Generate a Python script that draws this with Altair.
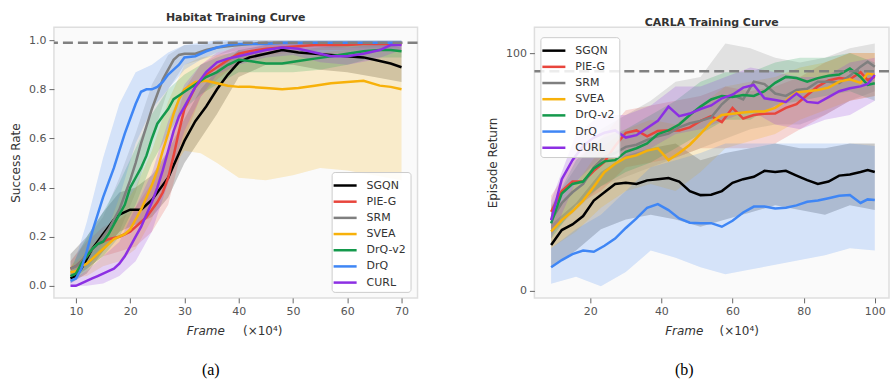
import altair as alt
import pandas as pd

METHODS = ["SGQN", "PIE-G", "SRM", "SVEA", "DrQ-v2", "DrQ", "CURL"]
COLORS = ["#000000", "#e8453c", "#7f7f7f", "#f7b10a", "#14994c", "#3f86f5", "#8c2fe3"]

# ---------------- Habitat (success rate) ----------------
HAB_X = [9, 10, 11, 12, 13, 14, 15, 16, 17, 18, 19, 20, 21, 22, 23, 24, 25, 26, 27, 28, 29, 30,
         32, 34, 36, 38, 40, 42, 45, 48, 51, 54, 57, 60, 63, 66, 68, 70]
HAB_SGQN = [0.03, 0.04, 0.07, 0.11, 0.15, 0.18, 0.21, 0.24, 0.27, 0.29, 0.30, 0.31, 0.31, 0.31, 0.33, 0.35, 0.38, 0.41, 0.44, 0.49, 0.54, 0.59,
            0.67, 0.73, 0.80, 0.86, 0.91, 0.93, 0.945, 0.96, 0.95, 0.945, 0.94, 0.935, 0.93, 0.915, 0.905, 0.89]
HAB_PIEG = [0.07, 0.08, 0.10, 0.12, 0.15, 0.17, 0.18, 0.19, 0.195, 0.20, 0.21, 0.22, 0.24, 0.26, 0.28, 0.31, 0.34, 0.38, 0.44, 0.53, 0.63, 0.72,
            0.81, 0.86, 0.89, 0.92, 0.945, 0.955, 0.965, 0.97, 0.975, 0.98, 0.98, 0.98, 0.985, 0.985, 0.985, 0.985]
HAB_SRM = [0.07, 0.08, 0.10, 0.13, 0.15, 0.17, 0.20, 0.23, 0.27, 0.31, 0.37, 0.43, 0.50, 0.58, 0.65, 0.72, 0.78, 0.84, 0.88, 0.92, 0.94, 0.945,
           0.945, 0.96, 0.97, 0.975, 0.98, 0.985, 0.99, 0.99, 0.99, 0.99, 0.99, 0.99, 0.99, 0.99, 0.99, 0.99]
HAB_SVEA = [0.055, 0.06, 0.08, 0.09, 0.11, 0.13, 0.15, 0.17, 0.19, 0.20, 0.21, 0.23, 0.27, 0.31, 0.36, 0.41, 0.47, 0.55, 0.62, 0.70, 0.76, 0.80,
            0.83, 0.835, 0.825, 0.815, 0.81, 0.81, 0.805, 0.80, 0.805, 0.815, 0.825, 0.83, 0.835, 0.815, 0.81, 0.80]
HAB_DRQV2 = [0.04, 0.05, 0.09, 0.12, 0.15, 0.17, 0.18, 0.21, 0.25, 0.29, 0.33, 0.40, 0.44, 0.48, 0.53, 0.60, 0.66, 0.69, 0.72, 0.76, 0.775, 0.79,
             0.82, 0.85, 0.87, 0.90, 0.92, 0.915, 0.905, 0.905, 0.915, 0.925, 0.935, 0.945, 0.955, 0.96, 0.96, 0.955]
HAB_DRQ = [0.02, 0.03, 0.07, 0.14, 0.22, 0.29, 0.36, 0.42, 0.48, 0.55, 0.62, 0.68, 0.74, 0.79, 0.80, 0.80, 0.81, 0.83, 0.86, 0.88, 0.90, 0.93,
           0.935, 0.955, 0.97, 0.98, 0.985, 0.985, 0.985, 0.99, 0.99, 0.99, 0.99, 0.99, 0.99, 0.99, 0.99, 0.99]
HAB_CURL = [0.0, 0.0, 0.01, 0.02, 0.03, 0.04, 0.05, 0.06, 0.07, 0.09, 0.12, 0.16, 0.20, 0.24, 0.29, 0.34, 0.40, 0.47, 0.55, 0.63, 0.69, 0.73,
            0.81, 0.87, 0.91, 0.925, 0.935, 0.945, 0.96, 0.97, 0.965, 0.95, 0.935, 0.935, 0.945, 0.96, 0.98, 0.98]

HAB_BX = [9, 12, 15, 18, 21, 24, 27, 30, 33, 36, 40, 45, 50, 55, 60, 65, 70]
HAB_SGQN_LO = [0.01, 0.05, 0.14, 0.22, 0.25, 0.28, 0.36, 0.50, 0.60, 0.70, 0.85, 0.90, 0.90, 0.88, 0.87, 0.85, 0.83]
HAB_SGQN_HI = [0.13, 0.20, 0.30, 0.38, 0.40, 0.45, 0.55, 0.68, 0.80, 0.88, 0.96, 0.98, 0.99, 0.99, 0.99, 0.99, 0.97]
HAB_PIEG_LO = [0.03, 0.07, 0.12, 0.14, 0.16, 0.22, 0.33, 0.60, 0.77, 0.84, 0.91, 0.94, 0.95, 0.96, 0.96, 0.96, 0.96]
HAB_PIEG_HI = [0.10, 0.18, 0.24, 0.27, 0.32, 0.42, 0.55, 0.80, 0.90, 0.94, 0.98, 0.99, 0.99, 0.995, 0.995, 0.995, 0.995]
HAB_SRM_LO = [0.04, 0.08, 0.14, 0.22, 0.38, 0.60, 0.80, 0.90, 0.92, 0.94, 0.96, 0.97, 0.97, 0.97, 0.97, 0.97, 0.97]
HAB_SRM_HI = [0.10, 0.19, 0.28, 0.44, 0.62, 0.82, 0.94, 0.98, 0.98, 0.99, 1.0, 1.0, 1.0, 1.0, 1.0, 1.0, 1.0]
HAB_SVEA_LO = [0.03, 0.04, 0.08, 0.10, 0.15, 0.27, 0.45, 0.55, 0.54, 0.50, 0.44, 0.43, 0.45, 0.48, 0.47, 0.45, 0.43]
HAB_SVEA_HI = [0.08, 0.14, 0.22, 0.30, 0.40, 0.55, 0.75, 0.90, 0.93, 0.94, 0.95, 0.95, 0.95, 0.95, 0.96, 0.96, 0.96]
HAB_DRQV2_LO = [0.02, 0.07, 0.12, 0.20, 0.33, 0.50, 0.62, 0.72, 0.78, 0.82, 0.87, 0.87, 0.87, 0.88, 0.90, 0.93, 0.93]
HAB_DRQV2_HI = [0.07, 0.20, 0.30, 0.42, 0.56, 0.70, 0.80, 0.86, 0.90, 0.93, 0.96, 0.95, 0.96, 0.97, 0.98, 0.99, 0.98]
HAB_DRQ_LO = [0.01, 0.06, 0.18, 0.36, 0.58, 0.72, 0.80, 0.88, 0.92, 0.95, 0.97, 0.98, 0.98, 0.98, 0.98, 0.98, 0.98]
HAB_DRQ_HI = [0.04, 0.26, 0.52, 0.74, 0.87, 0.90, 0.95, 0.98, 0.99, 1.0, 1.0, 1.0, 1.0, 1.0, 1.0, 1.0, 1.0]
HAB_CURL_LO = [0.0, 0.0, 0.01, 0.04, 0.10, 0.22, 0.42, 0.63, 0.77, 0.86, 0.90, 0.93, 0.94, 0.91, 0.90, 0.92, 0.96]
HAB_CURL_HI = [0.02, 0.06, 0.12, 0.18, 0.32, 0.46, 0.67, 0.82, 0.90, 0.95, 0.97, 0.98, 0.99, 0.98, 0.97, 0.98, 0.99]
HAB_REF = 0.99

# ---------------- CARLA (episode return) ----------------
CAR_X = [9, 12, 15, 18, 21, 24, 27, 30, 33, 36, 39, 42, 45, 48, 51, 54, 57, 60, 63, 66, 69, 72, 75, 78, 81, 84,
         87, 90, 93, 96, 98, 100]
CAR_SGQN = [19.3, 25.6, 28, 31.5, 38, 41.5, 45, 45.5, 45, 46.5, 47, 47.5, 46, 42, 40.3, 40.5, 42, 45.5, 47, 48, 50.5, 50,
            50.5, 48.5, 46.6, 45, 46, 48.5, 49, 50, 50.8, 50]
CAR_PIEG = [33.3, 42, 46, 46, 50.5, 54.3, 61, 66.5, 67.5, 65, 67.3, 67.6, 67.5, 68.8, 71.5, 73.5, 71, 77, 72.5, 74, 74.5,
            74.6, 77, 78.5, 82.4, 86, 88.5, 89.5, 89, 92, 88.7, 90]
CAR_SRM = [29.8, 37, 41.5, 45, 52, 56.4, 58, 60.6, 61.5, 63.5, 65, 66.2, 68.8, 70.5, 71.5, 73, 78.5, 82.5, 80.5, 88, 87,
           83, 82, 84.5, 85, 88, 88, 87.5, 90.5, 94.3, 96.4, 94.3]
CAR_SVEA = [25, 29.8, 33.5, 38, 43.8, 50, 53.5, 56, 57, 59, 60, 55, 58, 61.5, 66, 71, 74, 74.5, 75, 75.5, 75.5, 77, 80,
            83.5, 84, 84.5, 85.5, 88, 89, 87.5, 91.5, 90.8]
CAR_DRQV2 = [28.4, 41, 45, 46, 51.5, 54.5, 55, 58.5, 60, 62, 66, 67.5, 70, 74, 77.5, 80.5, 82, 81.6, 82.4, 82, 84, 87.5,
             90, 89.5, 88, 89.5, 90.5, 91, 93.5, 90, 86.6, 87.3]
CAR_DRQ = [10, 13, 15.5, 17, 16.5, 19, 22, 26.5, 30.5, 35, 36.5, 34, 30.5, 28.7, 28.5, 28.5, 27, 29.5, 33, 35.5, 35.5,
           34.7, 35, 36, 37.5, 38, 39, 40, 40.3, 37, 38.5, 38.2]
CAR_CURL = [29.8, 47, 55, 61, 64.5, 66.5, 67.5, 64.5, 65.5, 68.5, 71.5, 77.5, 73.5, 74.6, 76.5, 78, 81, 82.5, 85.5, 86.6,
            81, 80.3, 79.5, 83, 79.5, 79, 81.5, 84, 85.2, 86, 87, 90.8]

CAR_BX = [9, 16, 23, 30, 37, 44, 51, 58, 65, 72, 79, 86, 93, 100]
CAR_SGQN_LO = [10, 17, 26, 30, 32, 30, 27, 30, 33, 36, 34, 32, 36, 34]
CAR_SGQN_HI = [28, 37, 50, 57, 60, 62, 55, 58, 60, 62, 60, 60, 62, 62]
CAR_PIEG_LO = [26, 36, 42, 52, 54, 56, 60, 60, 60, 62, 68, 74, 80, 82]
CAR_PIEG_HI = [40, 56, 64, 76, 78, 80, 82, 86, 84, 86, 90, 96, 100, 100]
CAR_SRM_LO = [24, 34, 44, 48, 52, 56, 60, 64, 68, 70, 70, 74, 80, 84]
CAR_SRM_HI = [36, 52, 68, 74, 80, 88, 90, 104, 102, 98, 96, 98, 102, 104]
CAR_SVEA_LO = [18, 25, 35, 42, 45, 42, 50, 60, 63, 66, 72, 76, 80, 82]
CAR_SVEA_HI = [32, 45, 60, 68, 72, 70, 78, 86, 88, 90, 94, 96, 100, 100]
CAR_DRQV2_LO = [22, 36, 44, 50, 54, 60, 66, 72, 72, 78, 80, 82, 84, 80]
CAR_DRQV2_HI = [35, 55, 64, 68, 74, 80, 88, 92, 92, 96, 98, 98, 100, 96]
CAR_DRQ_LO = [3, 6, 2, 8, 17, 14, 10, 7, 9, 11, 13, 15, 18, 17]
CAR_DRQ_HI = [18, 26, 32, 42, 52, 55, 58, 62, 62, 62, 62, 62, 62, 61]
CAR_CURL_LO = [22, 46, 56, 56, 60, 66, 68, 72, 76, 70, 68, 72, 74, 80]
CAR_CURL_HI = [38, 66, 74, 74, 78, 86, 86, 90, 94, 92, 90, 90, 96, 98]
CAR_REF = 92.4

FONT = "DejaVu Sans"
color_scale = alt.Scale(domain=METHODS, range=COLORS)


def long_lines(xs, series):
    rows = []
    for m, vals in zip(METHODS, series):
        for x, v in zip(xs, vals):
            rows.append({"frame": x, "value": v, "method": m})
    return pd.DataFrame(rows)


def long_bands(xs, los, his):
    rows = []
    for m, c, lo, hi in zip(METHODS, COLORS, los, his):
        for x, a, b in zip(xs, lo, hi):
            rows.append({"frame": x, "lo": a, "hi": b, "band": m, "col": c})
    return pd.DataFrame(rows)


def text_layer(txt, px, py, **kw):
    return alt.Chart(pd.DataFrame({"t": [txt]})).mark_text(**kw).encode(
        text="t:N", x=alt.value(px), y=alt.value(py))


def panel(title, ytitle, xs, series, bxs, los, his, ref, xdom, ydom, xticks, yticks, yfmt,
          width, height, legx, legy, caption, frame_x, unit_x, cap_x, title_offset):
    xsc = alt.Scale(domain=xdom, nice=False, zero=False)
    ysc = alt.Scale(domain=ydom, nice=False, zero=False)
    xax = alt.Axis(values=xticks, title=None, format="d")
    yax = alt.Axis(values=yticks, format=yfmt, title=ytitle)
    band = alt.Chart(long_bands(bxs, los, his)).mark_area(opacity=0.2, clip=True).encode(
        x=alt.X("frame:Q", scale=xsc, axis=xax),
        y=alt.Y("lo:Q", scale=ysc, axis=yax),
        y2="hi:Q",
        fill=alt.Fill("col:N", scale=None),
        detail="band:N",
    )
    lines = alt.Chart(long_lines(xs, series)).mark_line(strokeWidth=2.5, clip=True).encode(
        x=alt.X("frame:Q", scale=xsc, axis=xax),
        y=alt.Y("value:Q", scale=ysc, axis=yax),
        color=alt.Color("method:N", scale=color_scale, sort=METHODS,
                        legend=alt.Legend(title=None, orient="none", legendX=legx, legendY=legy)),
    )
    rule = alt.Chart(pd.DataFrame({"ref": [ref]})).mark_rule(
        strokeDash=[10, 5], strokeWidth=2.5, color="#808080").encode(y=alt.Y("ref:Q", scale=ysc, axis=yax))
    t1 = text_layer("Frame", frame_x, height + 33, font=FONT, fontSize=12, fontStyle="italic",
                    color="#333333", align="center", baseline="middle")
    t2 = text_layer("(×10⁴)", unit_x, height + 33, font=FONT, fontSize=12,
                    color="#333333", align="center", baseline="middle")
    t3 = text_layer(caption, cap_x, height + 72, font="Liberation Serif", fontSize=16,
                    color="#000000", align="center", baseline="middle")
    return alt.layer(band, lines, rule, t1, t2, t3).properties(
        width=width, height=height,
        title=alt.TitleParams(title, font=FONT, fontSize=11, fontWeight="bold", color="#333333",
                              offset=title_offset),
    )


left = panel("Habitat Training Curve", "Success Rate", HAB_X,
             [HAB_SGQN, HAB_PIEG, HAB_SRM, HAB_SVEA, HAB_DRQV2, HAB_DRQ, HAB_CURL],
             HAB_BX,
             [HAB_SGQN_LO, HAB_PIEG_LO, HAB_SRM_LO, HAB_SVEA_LO, HAB_DRQV2_LO, HAB_DRQ_LO, HAB_CURL_LO],
             [HAB_SGQN_HI, HAB_PIEG_HI, HAB_SRM_HI, HAB_SVEA_HI, HAB_DRQV2_HI, HAB_DRQ_HI, HAB_CURL_HI],
             HAB_REF, [5.95, 72.95], [-0.049, 1.053], [10, 20, 30, 40, 50, 60, 70],
             [0.0, 0.2, 0.4, 0.6, 0.8, 1.0], ".1f", 364, 271, 278, 145, "(a)", 152, 209, 157, 4)

right = panel("CARLA Training Curve", "Episode Return", CAR_X,
              [CAR_SGQN, CAR_PIEG, CAR_SRM, CAR_SVEA, CAR_DRQV2, CAR_DRQ, CAR_CURL],
              CAR_BX,
              [CAR_SGQN_LO, CAR_PIEG_LO, CAR_SRM_LO, CAR_SVEA_LO, CAR_DRQV2_LO, CAR_DRQ_LO, CAR_CURL_LO],
              [CAR_SGQN_HI, CAR_PIEG_HI, CAR_SRM_HI, CAR_SVEA_HI, CAR_DRQV2_HI, CAR_DRQ_HI, CAR_CURL_HI],
              CAR_REF, [4.3, 104.0], [-2.9, 110.9], [20, 40, 60, 80, 100],
              [0, 100], "d", 355, 271, 6, 10, "(b)", 150, 205, 150, -1)

chart = alt.hconcat(left, right, spacing=66).resolve_scale(color="independent").resolve_legend(
    color="independent"
).properties(
    padding={"left": 8, "top": 11, "right": 2, "bottom": 0}
).configure_view(
    fill="#fafafa", stroke="#dedede", strokeWidth=1.5
).configure_axis(
    labelFont=FONT, labelFontSize=11, labelColor="#555555", tickColor="#666666", tickSize=5,
    tickWidth=1, labelPadding=3, domain=False, grid=False,
    titleFont=FONT, titleFontSize=12, titleFontWeight="normal", titleColor="#333333", titlePadding=6,
).configure_legend(
    labelFont=FONT, labelFontSize=11, labelColor="#333333", symbolType="M-1.44,0H1.44",
    symbolStrokeWidth=2.5, symbolSize=256, labelOffset=12, rowPadding=1.2, padding=4,
    fillColor="rgba(255,255,255,0.85)", strokeColor="#cccccc", cornerRadius=3, symbolOpacity=1,
).configure_concat(spacing=66)

chart.save("out.html", embed_options={"renderer": "svg", "actions": False})
